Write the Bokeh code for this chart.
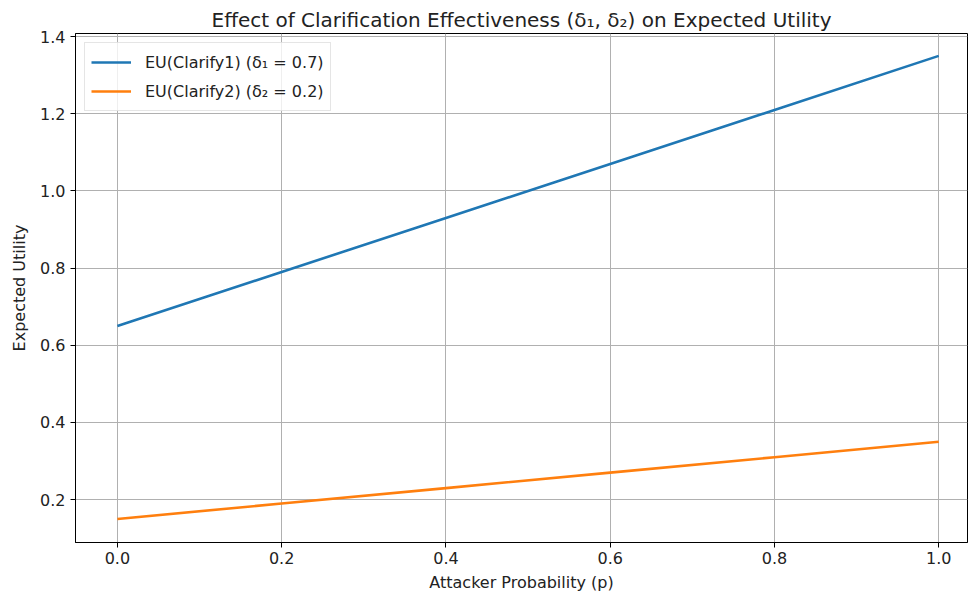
from bokeh.plotting import figure
from bokeh.models import FixedTicker, Range1d, Legend, LegendItem, NumeralTickFormatter
from bokeh.embed import file_html
from bokeh.resources import INLINE

p_vals = [0.0, 0.2, 0.4, 0.6, 0.8, 1.0]
eu_clarify1 = [0.65, 0.79, 0.93, 1.07, 1.21, 1.35]
eu_clarify2 = [0.15, 0.19, 0.23, 0.27, 0.31, 0.35]
label1 = "EU(Clarify1) (δ₁ = 0.7)"
label2 = "EU(Clarify2) (δ₂ = 0.2)"
title_text = "Effect of Clarification Effectiveness (δ₁, δ₂) on Expected Utility"
x_ticks = [0.0, 0.2, 0.4, 0.6, 0.8, 1.0]
y_ticks = [0.2, 0.4, 0.6, 0.8, 1.0, 1.2, 1.4]

FONT = "DejaVu Sans"

p = figure(width=969, height=600, output_backend="svg", toolbar_location=None,
           x_range=Range1d(-0.051, 1.035), y_range=Range1d(0.089, 1.408),
           min_border_left=75, min_border_right=2, min_border_top=33, min_border_bottom=58)

p.title.text = title_text
p.title.align = "center"
p.title.text_font = FONT
p.title.text_font_size = "20px"
p.title.text_font_style = "normal"
p.title.text_color = "#222222"
p.title.standoff = 4

r1 = p.line(p_vals, eu_clarify1, line_color="#1f77b4", line_width=2.6)
r2 = p.line(p_vals, eu_clarify2, line_color="#ff7f0e", line_width=2.6)

legend = Legend(items=[LegendItem(label=label1, renderers=[r1]),
                       LegendItem(label=label2, renderers=[r2])],
                location="top_left")
legend.label_text_font = FONT
legend.label_text_font_size = "16px"
legend.label_text_color = "#222222"
legend.border_line_color = "#cccccc"
legend.border_line_width = 1
legend.background_fill_alpha = 0.8
legend.glyph_width = 40
legend.glyph_height = 26
legend.spacing = 3
legend.padding = 6
legend.margin = 9
legend.label_standoff = 14
p.add_layout(legend)

p.xaxis.ticker = FixedTicker(ticks=x_ticks)
p.yaxis.ticker = FixedTicker(ticks=y_ticks)
p.xaxis.formatter = NumeralTickFormatter(format="0.0")
p.yaxis.formatter = NumeralTickFormatter(format="0.0")
p.xaxis.axis_label = "Attacker Probability (p)"
p.yaxis.axis_label = "Expected Utility"

for ax in (p.xaxis, p.yaxis):
    ax.axis_label_text_font = FONT
    ax.axis_label_text_font_size = "16px"
    ax.axis_label_text_font_style = "normal"
    ax.axis_label_text_color = "#222222"
    ax.major_label_text_font = FONT
    ax.major_label_text_font_size = "16px"
    ax.major_label_text_color = "#222222"
    ax.axis_line_color = "black"
    ax.major_tick_line_color = "black"
    ax.major_tick_out = 5
    ax.major_tick_in = 0
    ax.minor_tick_line_color = None

p.xaxis.major_label_standoff = 4
p.yaxis.major_label_standoff = 5
p.xaxis.axis_label_standoff = 6
p.yaxis.axis_label_standoff = 8

p.grid.grid_line_color = "#b0b0b0"
p.grid.grid_line_width = 1
p.outline_line_color = "black"
p.outline_line_width = 1

open("out.html", "w").write(file_html(p, INLINE))
